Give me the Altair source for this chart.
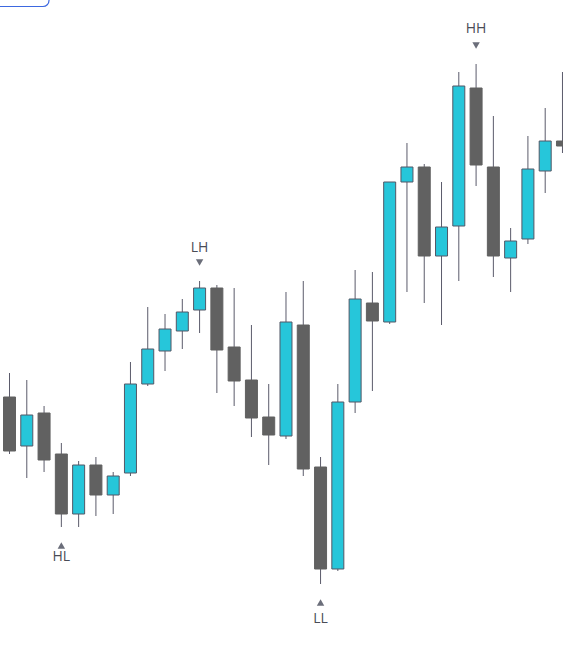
import altair as alt
import pandas as pd

# Candle data (price units)
idx   = list(range(1, 34))
opens  = [303, 254, 287, 246, 186, 235, 205, 227, 316, 349, 369, 390, 412, 353, 320, 283, 264,
          375, 233, 131, 298, 397, 378, 518, 533, 444, 474, 612, 533, 442, 461, 529, 559]
highs  = [327, 320, 294, 257, 239, 243, 228, 338, 393, 386, 401, 419, 415, 412, 375, 316, 408,
          419, 243, 316, 430, 428, 518, 557, 536, 518, 628, 636, 584, 472, 564, 592, 628]
lows   = [246, 222, 228, 173, 173, 184, 186, 224, 314, 329, 351, 367, 307, 294, 263, 235, 261,
          224, 116, 129, 287, 309, 376, 408, 397, 375, 419, 514, 423, 408, 456, 507, 547]
closes = [249, 285, 240, 186, 235, 205, 224, 316, 351, 371, 388, 412, 350, 319, 282, 265, 378,
          231, 131, 298, 401, 379, 518, 533, 444, 473, 614, 535, 444, 459, 531, 559, 554]

# Swing markers
mark_labels = ["HL", "LH", "LL", "HH"]
mark_idx    = [4, 12, 19, 28]
mark_side   = ["low", "high", "low", "high"]
label_gap   = [30, 33, 35, 35]

df = pd.DataFrame({"i": idx, "open": opens, "high": highs, "low": lows, "close": closes})
df["up"] = df["close"] > df["open"]
df["top"] = df[["open", "close"]].max(axis=1)
df["bot"] = df[["open", "close"]].min(axis=1)

rows = []
for lab, k, side, g in zip(mark_labels, mark_idx, mark_side, label_gap):
    r = df[df["i"] == k].iloc[0]
    if side == "low":
        rows.append({"i": k, "label": lab, "tri": r["low"] - 18.5, "txt": r["low"] - g,
                     "shape": "triangle-up"})
    else:
        rows.append({"i": k, "label": lab, "tri": r["high"] + 18.5, "txt": r["high"] + g,
                     "shape": "triangle-down"})
mdf = pd.DataFrame(rows)

W, H = 563, 652
xs = alt.Scale(domain=[0.45, 33.03], nice=False, zero=False, padding=0)
ys = alt.Scale(domain=[48, 700], nice=False, zero=False, padding=0)
X = alt.X("i:Q", scale=xs, axis=None)

base = alt.Chart(df)

wicks = base.mark_rule(color="#5b5b6b", strokeWidth=1).encode(
    x=X,
    y=alt.Y("high:Q", scale=ys, axis=None),
    y2="low:Q",
)

bodies = base.mark_bar(size=12, strokeWidth=1).encode(
    x=X,
    y=alt.Y("top:Q", scale=ys, axis=None),
    y2="bot:Q",
    fill=alt.Fill("up:N", scale=alt.Scale(domain=[True, False], range=["#26c6da", "#616161"]), legend=None),
    stroke=alt.Stroke("up:N", scale=alt.Scale(domain=[True, False], range=["#535766", "#616161"]), legend=None),
)

mbase = alt.Chart(mdf)
tris = mbase.mark_point(filled=True, size=55, color="#6b6e7a", opacity=1).encode(
    x=X,
    y=alt.Y("tri:Q", scale=ys, axis=None),
    shape=alt.Shape("shape:N", scale=None, legend=None),
)
texts = mbase.mark_text(fontSize=14, font="Open Sans", color="#4a4c56", baseline="middle").encode(
    x=X,
    y=alt.Y("txt:Q", scale=ys, axis=None),
    text="label:N",
)

# partial button outline at top-left corner
button = alt.Chart(pd.DataFrame({"a": [0]})).mark_rect(
    fill="white", stroke="#3d68e0", strokeWidth=1.2, cornerRadius=6, clip=False
).encode(
    x=alt.value(-20), x2=alt.value(49), y=alt.value(-30), y2=alt.value(6.5)
)

chart = alt.layer(wicks, bodies, tris, texts, button).properties(
    width=W, height=H,
    autosize=alt.AutoSizeParams(type="none"),
    padding=0,
    background="white",
).configure_view(stroke=None)

chart.save("out.html", embed_options={"renderer": "svg", "actions": False})
